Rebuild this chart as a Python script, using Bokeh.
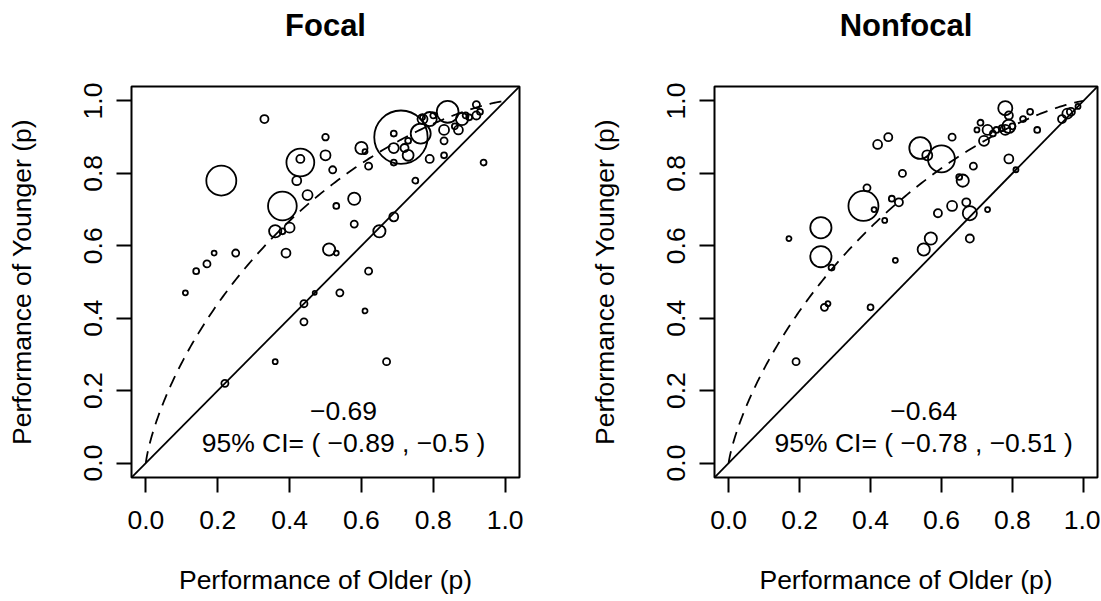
import math
import numpy as np
from bokeh.plotting import figure
from bokeh.layouts import row
from bokeh.models import FixedTicker, PrintfTickFormatter, Label, Slope, Range1d, Title
from bokeh.embed import file_html
from bokeh.resources import INLINE

# ---------------- data ----------------
titles = ["Focal", "Nonfocal"]
x_label = "Performance of Older (p)"
y_label = "Performance of Younger (p)"
ticks = [0.0, 0.2, 0.4, 0.6, 0.8, 1.0]

focal_x = [0.33, 0.21, 0.43, 0.43, 0.50, 0.50, 0.52, 0.42, 0.45, 0.38,
           0.36, 0.38, 0.40, 0.51, 0.53, 0.39, 0.25, 0.19, 0.17, 0.14,
           0.11, 0.47, 0.44, 0.54, 0.61, 0.44, 0.36, 0.67, 0.22, 0.62,
           0.60, 0.61, 0.62, 0.53, 0.58, 0.58, 0.65, 0.69, 0.75, 0.94,
           0.71, 0.69, 0.69, 0.72, 0.73, 0.73, 0.69, 0.765, 0.77, 0.79,
           0.79, 0.83, 0.83, 0.83, 0.84, 0.86, 0.87, 0.88, 0.89, 0.90,
           0.92, 0.93, 0.92, 0.77, 0.80]
focal_y = [0.95, 0.78, 0.84, 0.83, 0.90, 0.85, 0.81, 0.78, 0.74, 0.71,
           0.64, 0.64, 0.65, 0.59, 0.58, 0.58, 0.58, 0.58, 0.55, 0.53,
           0.47, 0.47, 0.44, 0.47, 0.42, 0.39, 0.28, 0.28, 0.22, 0.53,
           0.87, 0.86, 0.82, 0.71, 0.73, 0.66, 0.64, 0.68, 0.78, 0.83,
           0.90, 0.91, 0.87, 0.87, 0.89, 0.85, 0.83, 0.91, 0.95, 0.95,
           0.84, 0.85, 0.89, 0.92, 0.97, 0.93, 0.92, 0.95, 0.96, 0.955,
           0.96, 0.97, 0.99, 0.955, 0.96]
focal_n = [2.6, 36, 2.6, 31, 1.7, 4, 2, 3.2, 4, 33,
           6, 1.4, 4, 6, 1, 3.2, 2, 1, 2, 1.4,
           1, 0.64, 2, 2, 1, 2, 1, 2, 2, 2,
           6, 1, 2, 1.4, 6, 2, 6, 3.2, 1.4, 1.4,
           114, 1.4, 4, 2.6, 1.4, 4.8, 1.4, 16, 4, 8,
           2.6, 1.4, 2, 4, 19, 1.4, 3.2, 6, 1.4, 1.4,
           2.6, 1.4, 2, 1, 1.4]

nonfocal_x = [0.17, 0.26, 0.26, 0.29, 0.38, 0.39, 0.41, 0.44, 0.46, 0.48,
              0.49, 0.42, 0.45, 0.54, 0.56, 0.60, 0.63, 0.65, 0.66, 0.69,
              0.59, 0.63, 0.67, 0.68, 0.73, 0.68, 0.57, 0.55, 0.47, 0.71,
              0.70, 0.73, 0.72, 0.745, 0.755, 0.77, 0.78, 0.79, 0.79, 0.78,
              0.80, 0.83, 0.85, 0.87, 0.79, 0.81, 0.19, 0.27, 0.28, 0.40,
              0.94, 0.955, 0.965, 0.985]
nonfocal_y = [0.62, 0.65, 0.57, 0.54, 0.71, 0.76, 0.70, 0.67, 0.73, 0.72,
              0.80, 0.88, 0.90, 0.87, 0.85, 0.84, 0.90, 0.79, 0.78, 0.82,
              0.69, 0.71, 0.72, 0.69, 0.70, 0.62, 0.62, 0.59, 0.56, 0.94,
              0.92, 0.92, 0.89, 0.91, 0.92, 0.925, 0.98, 0.96, 0.93, 0.92,
              0.93, 0.95, 0.97, 0.92, 0.84, 0.81, 0.28, 0.43, 0.44, 0.43,
              0.95, 0.965, 0.97, 0.985]
nonfocal_n = [1, 18, 18, 1.4, 36, 2, 1, 1, 1.4, 2.6,
              2, 3.2, 2.6, 19, 4, 29, 2, 1.4, 6, 2,
              2.6, 4, 2.6, 8, 1, 2.6, 6, 6, 1, 1.4,
              1, 4, 4, 1.4, 1.4, 1.4, 8, 2.6, 7, 4,
              1.4, 1.4, 1.4, 1.4, 3.2, 1, 2, 2, 1, 1.4,
              2.6, 4, 2.6, 1]

effects = [-0.69, -0.64]
ci_low = [-0.89, -0.78]
ci_high = [-0.5, -0.51]

# ---------------- helpers ----------------
FONT = "Liberation Sans"
FS = "26.5px"


def phi(z):
    return np.array([0.5 * (1.0 + math.erf(v / math.sqrt(2.0))) for v in z])


def fmt(v):
    return ("%g" % v).replace("-", "\u2212")


def make_panel(title, xs, ys, ns, eff, lo, hi, width, border_left, border_right):
    p = figure(width=width, height=600, output_backend="svg", toolbar_location=None,
               x_range=Range1d(-0.04, 1.04), y_range=Range1d(-0.04, 1.04),
               min_border_left=border_left, min_border_right=border_right,
               min_border_top=86, min_border_bottom=123)
    p.background_fill_color = "white"
    p.border_fill_color = "white"
    p.outline_line_color = "black"
    p.outline_line_width = 2
    p.xgrid.visible = False
    p.ygrid.visible = False

    # spacer between frame and title, then the title itself (stacked outward)
    p.add_layout(Title(text=" ", text_font_size="10px", standoff=31), "above")
    p.add_layout(Title(text=title, align="center", text_font=FONT,
                       text_font_size="31px", text_font_style="bold",
                       text_color="black", standoff=0), "above")

    for ax in (p.xaxis[0], p.yaxis[0]):
        ax.ticker = FixedTicker(ticks=ticks)
        ax.formatter = PrintfTickFormatter(format="%.1f")
        ax.major_tick_out = 15
        ax.major_tick_in = 0
        ax.minor_tick_out = 0
        ax.minor_tick_in = 0
        ax.major_tick_line_width = 2
        ax.major_tick_line_color = "black"
        ax.axis_line_color = None
        ax.major_label_text_font = FONT
        ax.major_label_text_font_size = FS
        ax.major_label_text_color = "black"
        ax.axis_label_text_font = FONT
        ax.axis_label_text_font_size = FS
        ax.axis_label_text_font_style = "normal"
        ax.axis_label_text_color = "black"

    p.xaxis.axis_label = x_label
    p.yaxis.axis_label = y_label
    p.xaxis.major_label_standoff = 18
    p.xaxis.axis_label_standoff = 33
    p.yaxis.major_label_standoff = 14
    p.yaxis.major_label_orientation = "vertical"
    p.yaxis.axis_label_standoff = 45

    # identity line
    p.add_layout(Slope(gradient=1, y_intercept=0, line_color="black", line_width=1.8))

    # probit-shift curve implied by the effect estimate
    z = np.linspace(-6, 6, 600)
    p.line(phi(z), phi(z - eff), line_color="black", line_width=1.8, line_dash="12 8")

    diam = [5.0 * math.sqrt(n) for n in ns]
    p.scatter(xs, ys, size=diam, marker="circle", fill_color=None,
              line_color="black", line_width=1.8)

    p.add_layout(Label(x=0.55, y=0.145, text=fmt(eff), text_align="center",
                       text_baseline="middle", text_font=FONT,
                       text_font_size=FS, text_color="black"))
    p.add_layout(Label(x=0.55, y=0.055,
                       text="95% CI= ( " + fmt(lo) + " , " + fmt(hi) + " )",
                       text_align="center", text_baseline="middle", text_font=FONT,
                       text_font_size=FS, text_color="black"))
    return p


p1 = make_panel(titles[0], focal_x, focal_y, focal_n, effects[0], ci_low[0], ci_high[0], 586, 131, 67)
p2 = make_panel(titles[1], nonfocal_x, nonfocal_y, nonfocal_n, effects[1], ci_low[1], ci_high[1], 514, 123, 3)

layout = row(p1, p2)
open("out.html", "w").write(file_html(layout, INLINE))
